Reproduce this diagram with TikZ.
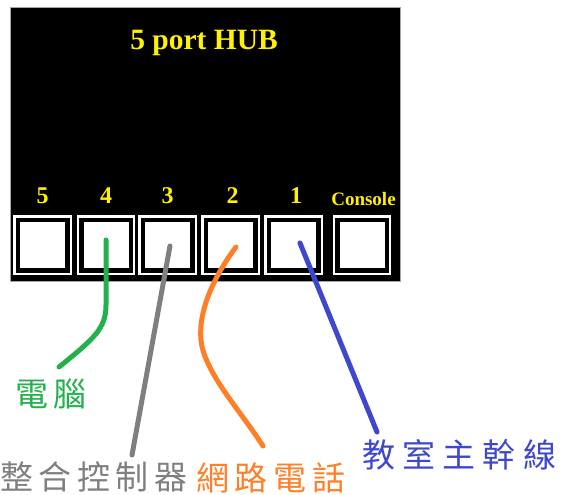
\documentclass[tikz,border=0pt]{standalone}
\usepackage{fontspec}
\setmainfont{Liberation Serif}
\newfontfamily\cjk[LetterSpace=17]{Noto Sans CJK TC}
\newfontfamily\cjkwide[LetterSpace=22]{Noto Sans CJK TC}
\definecolor{hubyellow}{RGB}{255,242,0}
\definecolor{cgreen}{RGB}{34,177,76}
\definecolor{cgray}{RGB}{127,127,127}
\definecolor{corange}{RGB}{255,127,39}
\definecolor{cblue}{RGB}{63,72,204}
\begin{document}
\begin{tikzpicture}[x=1pt,y=-1pt,
  hub/.style={draw=gray!70, line width=0.8pt, fill=black, minimum width=390pt, minimum height=274pt, inner sep=0pt},
  port/.style={draw=white, double=black, double distance=4.5pt, line width=2.4pt, fill=white,
    minimum width=49.5pt, minimum height=50.5pt, inner sep=0pt},
  num/.style={text=hubyellow, font=\bfseries\fontsize{24}{24}\selectfont, anchor=base, inner sep=0pt},
  cable/.style={line width=5pt, line cap=round},
  lbl/.style={font=\cjk\fontsize{33}{33}\selectfont, inner sep=0pt}
]
\useasboundingbox (0,0) rectangle (562,495);
\node[hub] (hub) at (205,144) {};
\node[text=hubyellow, font=\bfseries\fontsize{29.5}{29.5}\selectfont, anchor=base, inner sep=0pt] (title) at (204,50) {5 port HUB};
% ports
\node[port] (p5) at (42.5,245) {};
\node[port] (p4) at (106,245) {};
\node[port] (p3) at (167.5,245) {};
\node[port] (p2) at (230.5,245) {};
\node[port] (p1) at (293.5,245) {};
\node[port] (pc) at (362,245) {};
% numbers
\node[num] (n5) at (42.5,203) {5};
\node[num] (n4) at (106,203) {4};
\node[num] (n3) at (167.5,203) {3};
\node[num] (n2) at (232.5,203) {2};
\node[num] (n1) at (296,203) {1};
\node[text=hubyellow, font=\bfseries\fontsize{19}{19}\selectfont, anchor=base, inner sep=0pt] (nc) at (363.5,205) {Console};
% labels
\node[lbl, text=cgreen, anchor=west] (lpc) at (15,394) {電腦};
\node[lbl, text=cgray, anchor=west] (lctl) at (0,477) {整合控制器};
\node[lbl, text=corange, anchor=west] (lphone) at (196,478) {網路電話};
\node[lbl, font=\cjkwide\fontsize{33}{33}\selectfont, text=cblue, anchor=west] (lmain) at (362,455) {教室主幹線};
% cable ends
\coordinate (g1) at (106,240);
\coordinate (g2) at (59,367);
\coordinate (s1) at (170,246);
\coordinate (s2) at (132,455);
\coordinate (o1) at (236,247);
\coordinate (o2) at (263,446);
\coordinate (b1) at (300,243);
\coordinate (b2) at (377,432);
% cables
\draw[cable, cgreen] (g1) -- (106,305) .. controls (106,328) and (95,338) .. (g2);
\draw[cable, cgray] (s1) -- (s2);
\draw[cable, corange] (o1) .. controls (215,275) and (198,310) .. (201,340) .. controls (204,372) and (240,410) .. (o2);
\draw[cable, cblue] (b1) -- (b2);
\end{tikzpicture}
\end{document}
